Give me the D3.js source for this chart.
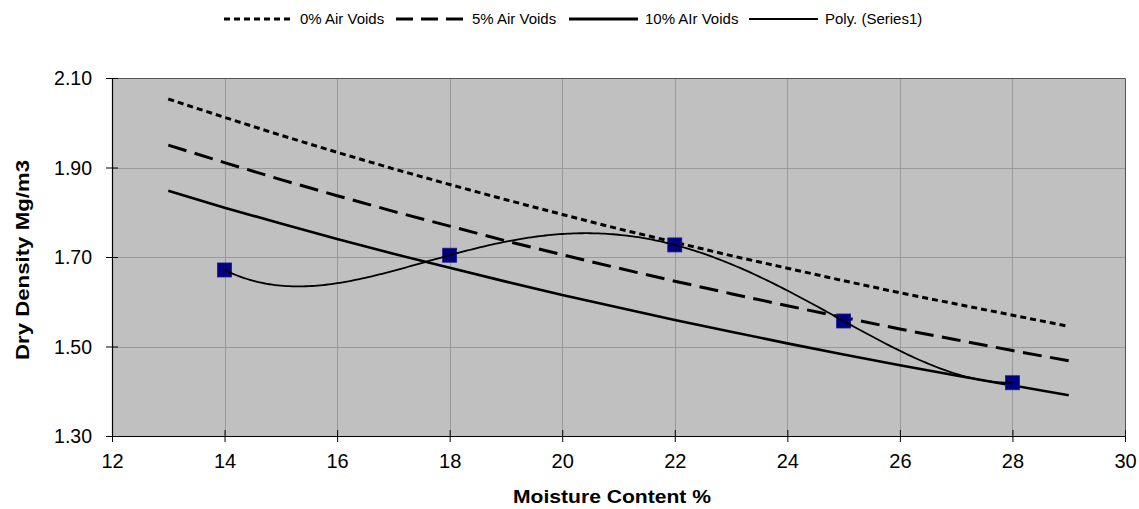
<!DOCTYPE html>
<html>
<head>
<meta charset="utf-8">
<script src="https://cdn.jsdelivr.net/npm/d3@7/dist/d3.min.js"></script>
<style>
  html, body { margin: 0; padding: 0; background: #ffffff; }
  svg { display: block; font-family: "Liberation Sans", Arial, sans-serif; }
</style>
</head>
<body>
<svg id="chart" width="1139" height="509"></svg>
<script>
// Compaction test results
const moisture = [14, 18, 22, 25, 28];
const dryDensity = [1.671, 1.704, 1.727, 1.557, 1.419];

// Air voids lines (dry density vs moisture content)
const voidsMoisture = [13, 14, 15, 16, 17, 18, 19, 20, 21, 22, 23, 24, 25, 26, 27, 28, 29];
const voids0 = [2.053, 2.012, 1.972, 1.934, 1.897, 1.862, 1.828, 1.795, 1.763, 1.733, 1.703, 1.675, 1.647, 1.620, 1.595, 1.570, 1.545];
const voids5 = [1.950, 1.911, 1.873, 1.837, 1.802, 1.769, 1.736, 1.705, 1.675, 1.646, 1.618, 1.591, 1.565, 1.539, 1.515, 1.491, 1.468];
const voids10 = [1.848, 1.810, 1.775, 1.740, 1.707, 1.676, 1.645, 1.615, 1.587, 1.559, 1.533, 1.507, 1.482, 1.458, 1.435, 1.413, 1.391];

const xTicks = [12, 14, 16, 18, 20, 22, 24, 26, 28, 30];
const yTicks = [1.30, 1.50, 1.70, 1.90, 2.10];

const legendLabels = ["0% Air Voids", "5% Air Voids", "10% AIr Voids", "Poly. (Series1)"];
const polyOrder = 4;

const svg = d3.select("#chart");
const plot = { left: 112, top: 78, right: 1125, bottom: 436 };

const x = d3.scaleLinear().domain([12, 30]).range([plot.left, plot.right]);
const y = d3.scaleLinear().domain([1.30, 2.10]).range([plot.bottom, plot.top]);

// Plot area background
svg.append("rect")
  .attr("x", plot.left).attr("y", plot.top)
  .attr("width", plot.right - plot.left).attr("height", plot.bottom - plot.top)
  .attr("fill", "#c0c0c0");

// Gridlines
const grid = svg.append("g").attr("stroke", "#999999").attr("stroke-width", 1);
xTicks.slice(1, -1).forEach(t => {
  grid.append("line")
    .attr("x1", Math.round(x(t)) + 0.5).attr("x2", Math.round(x(t)) + 0.5)
    .attr("y1", plot.top).attr("y2", plot.bottom);
});
yTicks.slice(1, -1).forEach(t => {
  grid.append("line")
    .attr("x1", plot.left).attr("x2", plot.right)
    .attr("y1", Math.round(y(t)) + 0.5).attr("y2", Math.round(y(t)) + 0.5);
});

// Plot area border (top/right)
svg.append("path")
  .attr("d", `M${plot.left},${plot.top + 0.5}H${plot.right + 0.5}V${plot.bottom}`)
  .attr("fill", "none").attr("stroke", "#555555").attr("stroke-width", 1);

// Air voids lines
const line = d3.line().x(d => x(d[0])).y(d => y(d[1]));
const voidsSeries = [
  { values: voids0, dash: "6,4", width: 3 },
  { values: voids5, dash: "19,8.5", width: 3 },
  { values: voids10, dash: null, width: 2.6 }
];
voidsSeries.forEach(s => {
  svg.append("path")
    .datum(voidsMoisture.map((w, i) => [w, s.values[i]]))
    .attr("d", line)
    .attr("fill", "none")
    .attr("stroke", "#000000")
    .attr("stroke-width", s.width)
    .attr("stroke-dasharray", s.dash);
});

// Data markers
svg.append("g").selectAll("rect")
  .data(moisture.map((w, i) => [w, dryDensity[i]]))
  .join("rect")
  .attr("x", d => x(d[0]) - 7)
  .attr("y", d => y(d[1]) - 7)
  .attr("width", 14).attr("height", 14)
  .attr("fill", "#000080")
  .attr("stroke", "#1a1a8c").attr("stroke-width", 0.8);

// Polynomial trendline (least squares fit of the given order)
function polyFit(xs, ys, order) {
  const n = order + 1;
  const A = Array.from({ length: n }, () => new Array(n + 1).fill(0));
  xs.forEach((xv, k) => {
    for (let i = 0; i < n; i++) {
      for (let j = 0; j < n; j++) A[i][j] += Math.pow(xv, i + j);
      A[i][n] += ys[k] * Math.pow(xv, i);
    }
  });
  for (let c = 0; c < n; c++) {
    let p = c;
    for (let r = c + 1; r < n; r++) if (Math.abs(A[r][c]) > Math.abs(A[p][c])) p = r;
    [A[c], A[p]] = [A[p], A[c]];
    for (let r = 0; r < n; r++) {
      if (r === c) continue;
      const f = A[r][c] / A[c][c];
      for (let j = c; j <= n; j++) A[r][j] -= f * A[c][j];
    }
  }
  return A.map((row, i) => row[n] / row[i]);
}
const coef = polyFit(moisture, dryDensity, polyOrder);
const polyVal = w => coef.reduce((s, c, i) => s + c * Math.pow(w, i), 0);
const trend = d3.range(moisture[0], moisture[moisture.length - 1] + 0.001, 0.05).map(w => [w, polyVal(w)]);
svg.append("path")
  .datum(trend)
  .attr("d", line)
  .attr("fill", "none")
  .attr("stroke", "#000000")
  .attr("stroke-width", 1.8);

// Axes
const xAxis = svg.append("g")
  .attr("transform", `translate(0,${plot.bottom})`)
  .call(d3.axisBottom(x).tickValues(xTicks).tickSize(6).tickSizeOuter(0).tickFormat(d3.format("d")));
xAxis.select(".domain").attr("stroke", "#000").attr("stroke-width", 1.2);
xAxis.selectAll(".tick line").attr("y1", -6).attr("y2", 6).attr("stroke", "#000");
xAxis.selectAll(".tick text")
  .attr("y", 32).attr("dy", 0)
  .attr("font-size", 20).attr("fill", "#000")
  .attr("font-family", "Liberation Sans, Arial, sans-serif");

const yAxis = svg.append("g")
  .attr("transform", `translate(${plot.left},0)`)
  .call(d3.axisLeft(y).tickValues(yTicks).tickSize(6).tickSizeOuter(0).tickFormat(d3.format(".2f")));
yAxis.select(".domain").attr("stroke", "#000").attr("stroke-width", 1.2);
yAxis.selectAll(".tick line").attr("x1", -6).attr("x2", 6).attr("stroke", "#000");
yAxis.selectAll(".tick text")
  .attr("x", -20).attr("dy", "0.35em")
  .attr("font-size", 19.5).attr("fill", "#000")
  .attr("font-family", "Liberation Sans, Arial, sans-serif");

// Axis titles
svg.append("text")
  .attr("x", 612).attr("y", 503)
  .attr("text-anchor", "middle")
  .attr("font-size", 19).attr("font-weight", "bold")
  .attr("textLength", 198).attr("lengthAdjust", "spacingAndGlyphs")
  .text("Moisture Content %");

svg.append("text")
  .attr("transform", `translate(29,260) rotate(-90)`)
  .attr("text-anchor", "middle")
  .attr("font-size", 19).attr("font-weight", "bold")
  .attr("textLength", 200).attr("lengthAdjust", "spacingAndGlyphs")
  .text("Dry Density Mg/m3");

// Legend
const legendItems = [
  { x: 224, dash: "6,4", width: 3 },
  { x: 396, dash: "17,8", width: 3 },
  { x: 569, dash: null, width: 3 },
  { x: 749, dash: null, width: 2 }
];
const legend = svg.append("g");
legendItems.forEach((it, i) => {
  legend.append("line")
    .attr("x1", it.x).attr("x2", it.x + 69)
    .attr("y1", 19).attr("y2", 19)
    .attr("stroke", "#000").attr("stroke-width", it.width)
    .attr("stroke-dasharray", it.dash);
  legend.append("text")
    .attr("x", it.x + 76).attr("y", 24)
    .attr("font-size", 15).attr("fill", "#000")
    .text(legendLabels[i]);
});
</script>
</body>
</html>
